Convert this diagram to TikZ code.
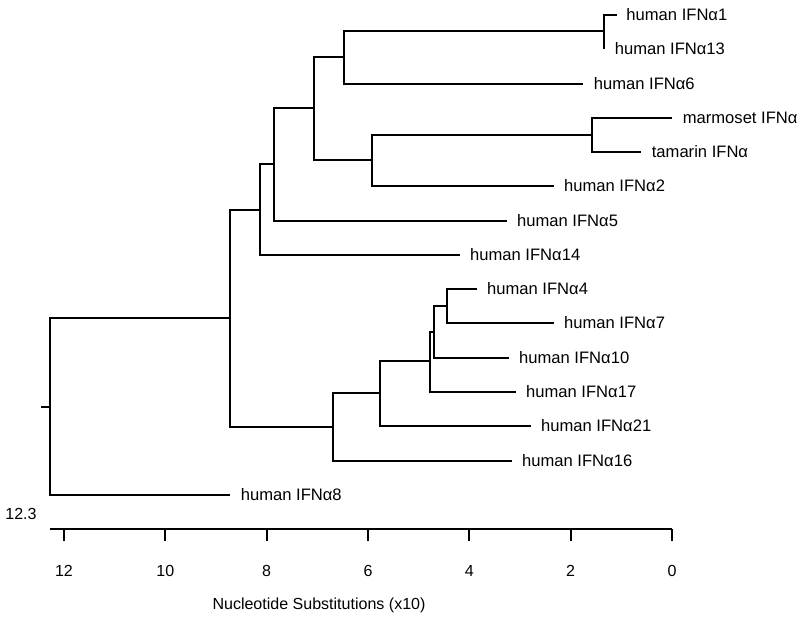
\documentclass[tikz,border=0pt]{standalone}
\usepackage{fontspec}
\setmainfont{Liberation Sans}
\usetikzlibrary{positioning}

\begin{document}
\begin{tikzpicture}[
  x=0.025cm, y=-0.025cm,
  br/.style={line width=1.45pt},
  lab/.style={inner sep=0pt, font=\fontsize{11.8}{14}\selectfont},
  ticklab/.style={inner sep=0pt, font=\fontsize{11.4}{13}\selectfont}
]
\useasboundingbox (0,0) rectangle (800,621);

% internal nodes
\coordinate (root) at (50,407);
\coordinate (stub) at (41,407);
\coordinate (nA) at (230,318);
\coordinate (nB) at (260,210);
\coordinate (nC) at (274,164);
\coordinate (nD) at (314,108);
\coordinate (nE) at (344,57);
\coordinate (n1) at (604,31);
\coordinate (nF) at (372,160);
\coordinate (nM) at (592,135);
\coordinate (n333) at (333,427);
\coordinate (n380) at (380,393);
\coordinate (n430) at (430,361);
\coordinate (n434) at (434,332);
\coordinate (n447) at (447,306);

% leaf ends
\coordinate (e1) at (617,15);
\coordinate (e13) at (604,49);
\coordinate (e6) at (583,84);
\coordinate (emar) at (672,118);
\coordinate (etam) at (641,152);
\coordinate (e2) at (554,186);
\coordinate (e5) at (507,221);
\coordinate (e14) at (460,255);
\coordinate (e4) at (477,289);
\coordinate (e7) at (554,323);
\coordinate (e10) at (509,358);
\coordinate (e17) at (516,392);
\coordinate (e21) at (531,426);
\coordinate (e16) at (512,461);
\coordinate (e8) at (230,495);

% leaf labels
\node[lab, right=6.5pt of e1] (l1) {human IFNα1};
\node[lab, right=7.5pt of e13] (l13) {human IFNα13};
\node[lab, right=7.5pt of e6] (l6) {human IFNα6};
\node[lab, right=7.5pt of emar] (lmar) {marmoset IFNα};
\node[lab, right=7.5pt of etam] (ltam) {tamarin IFNα};
\node[lab, right=7pt of e2] (l2) {human IFNα2};
\node[lab, right=7pt of e5] (l5) {human IFNα5};
\node[lab, right=7pt of e14] (l14) {human IFNα14};
\node[lab, right=7pt of e4] (l4) {human IFNα4};
\node[lab, right=7pt of e7] (l7) {human IFNα7};
\node[lab, right=7pt of e10] (l10) {human IFNα10};
\node[lab, right=7pt of e17] (l17) {human IFNα17};
\node[lab, right=7pt of e21] (l21) {human IFNα21};
\node[lab, right=7pt of e16] (l16) {human IFNα16};
\node[lab, right=7.5pt of e8] (l8) {human IFNα8};

% branches
\draw[br] (stub) -- (root);
\draw[br] (root) |- (nA);
\draw[br] (root) |- (e8);
\draw[br] (nA) |- (nB);
\draw[br] (nA) |- (n333);
\draw[br] (nB) |- (nC);
\draw[br] (nB) |- (e14);
\draw[br] (nC) |- (nD);
\draw[br] (nC) |- (e5);
\draw[br] (nD) |- (nE);
\draw[br] (nD) |- (nF);
\draw[br] (nE) |- (n1);
\draw[br] (nE) |- (e6);
\draw[br] (n1) |- (e1);
\draw[br] (n1) |- (e13);
\draw[br] (nF) |- (nM);
\draw[br] (nF) |- (e2);
\draw[br] (nM) |- (emar);
\draw[br] (nM) |- (etam);
\draw[br] (n333) |- (n380);
\draw[br] (n333) |- (e16);
\draw[br] (n380) |- (n430);
\draw[br] (n380) |- (e21);
\draw[br] (n430) |- (n434);
\draw[br] (n430) |- (e17);
\draw[br] (n434) |- (n447);
\draw[br] (n434) |- (e10);
\draw[br] (n447) |- (e4);
\draw[br] (n447) |- (e7);

% scale
\node[ticklab] (rootval) at (21,514) {12.3};
\coordinate (ax0) at (672,529);
\coordinate (ax123) at (49.5,529);
\draw[br] (ax123) -- (ax0);
\foreach \v in {12,10,8,6,4,2,0} {
  \draw[br] ({672-50.67*\v},529) -- ({672-50.67*\v},541);
  \node[ticklab] (t\v) at ({672-50.67*\v},571) {\v};
}
\node[ticklab] (axtitle) at (319,605) {Nucleotide Substitutions (x10)};
\end{tikzpicture}
\end{document}
